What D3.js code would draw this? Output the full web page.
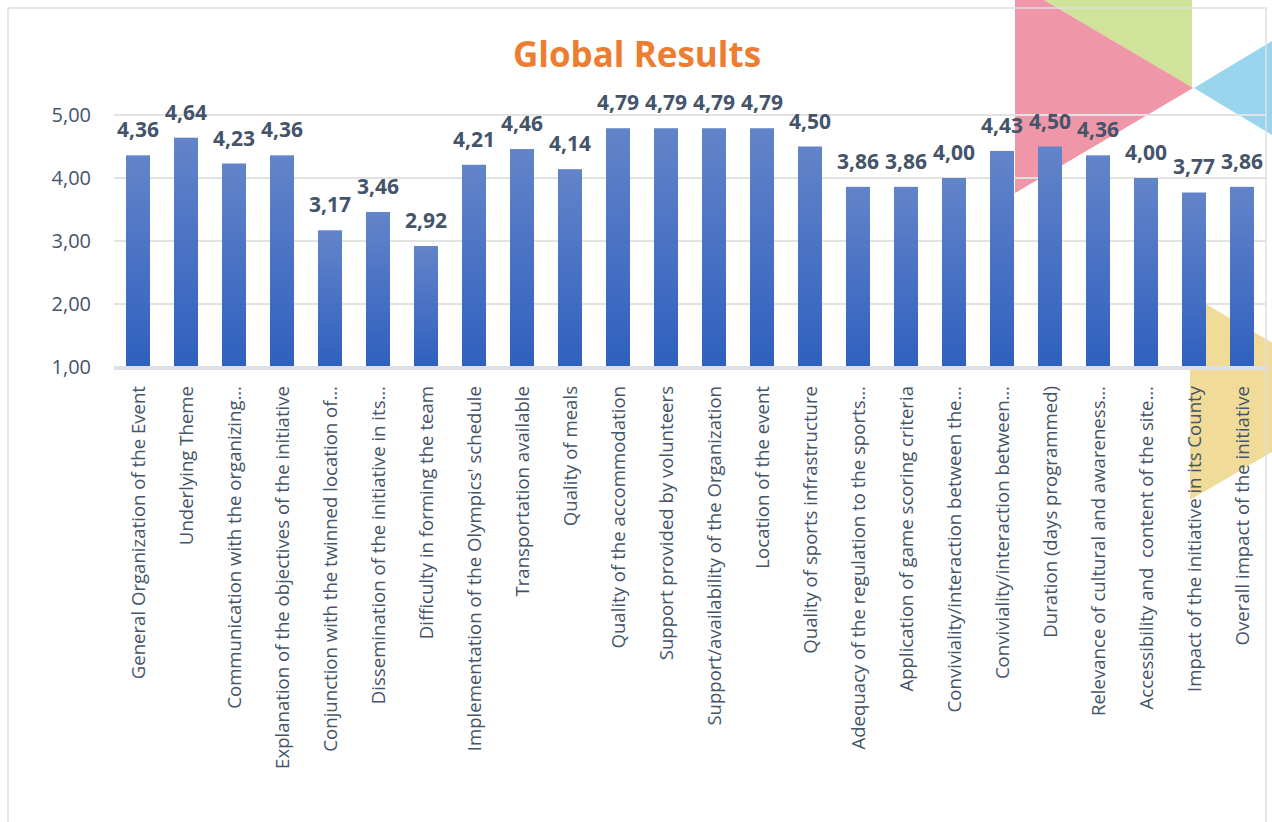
<!DOCTYPE html>
<html>
<head>
<meta charset="utf-8">
<script src="https://cdn.jsdelivr.net/npm/d3@7"></script>
<style>
  html, body { margin: 0; padding: 0; background: #fff; }
  svg { display: block; font-family: "Open Sans", sans-serif; }
</style>
</head>
<body>
<div id="chart"></div>
<script>
// categories and the average score of each one
const categories = [
  "General Organization of the Event",
  "Underlying Theme",
  "Communication with the organizing…",
  "Explanation of the objectives of the initiative",
  "Conjunction with the twinned location of…",
  "Dissemination of the initiative in its…",
  "Difficulty in forming the team",
  "Implementation of the Olympics' schedule",
  "Transportation available",
  "Quality of meals",
  "Quality of the accommodation",
  "Support provided by volunteers",
  "Support/availability of the Organization",
  "Location of the event",
  "Quality of sports infrastructure",
  "Adequacy of the regulation to the sports…",
  "Application of game scoring criteria",
  "Conviviality/interaction between the…",
  "Conviviality/interaction between…",
  "Duration (days programmed)",
  "Relevance of cultural and awareness…",
  "Accessibility and  content of the site…",
  "Impact of the initiative in its County",
  "Overall impact of the initiative"
];
const scores = [4.36, 4.64, 4.23, 4.36, 3.17, 3.46, 2.92, 4.21, 4.46, 4.14, 4.79, 4.79,
  4.79, 4.79, 4.50, 3.86, 3.86, 4.00, 4.43, 4.50, 4.36, 4.00, 3.77, 3.86];
const yTicks = [1, 2, 3, 4, 5];

const W = 1272, H = 822;
const PLOT = {LEFT: 114, RIGHT: 1266, TOP: 115, BOTTOM: 367};

const data = categories.map((c, i) => ({name: c, value: scores[i]}));
const locale = d3.formatLocale({decimal: ",", thousands: ".", grouping: [3], currency: ["", "€"]});
const fmt = locale.format(".2f");

const svg = d3.select('#chart').append('svg')
  .attr('width', W)
  .attr('height', H);

// gradient for the bars
const grad = svg.append('defs').append('linearGradient')
  .attr('id', 'barGrad')
  .attr('x1', 0).attr('y1', 0).attr('x2', 0).attr('y2', 1);
grad.append('stop').attr('offset', '0%').attr('stop-color', '#6384ca');
grad.append('stop').attr('offset', '100%').attr('stop-color', '#2f60be');

// background decoration (the coloured triangles behind the chart)
const deco = [
  {fill: '#d1e29b', pts: [[1015, -17], [1192, -17], [1192, 88]]},
  {fill: '#f096a9', pts: [[1015, -17], [1193, 88], [1015, 193]]},
  {fill: '#99d6ee', pts: [[1194, 88], [1300, 24], [1300, 152]]},
  {fill: '#f0dc98', pts: [[1190, 295], [1366, 397], [1190, 500]]}
];
svg.selectAll('polygon.deco')
  .data(deco)
  .enter().append('polygon')
    .attr('class', 'deco')
    .attr('points', d => d.pts.map(p => p.join(',')).join(' '))
    .attr('fill', d => d.fill);

// chart border
svg.append('rect')
  .attr('x', 8).attr('y', 8)
  .attr('width', 1258).attr('height', 830)
  .attr('fill', 'none')
  .attr('stroke', '#dcdfe3')
  .attr('stroke-width', 1.5);

// scales
const x = d3.scaleBand()
  .domain(categories)
  .range([PLOT.LEFT, PLOT.RIGHT])
  .paddingInner(0.5)
  .paddingOuter(0.25);

const y = d3.scaleLinear()
  .domain([1, 5])
  .range([PLOT.BOTTOM, PLOT.TOP]);

// gridlines
svg.append('g')
  .selectAll('line')
  .data(yTicks.filter(t => t > 1))
  .enter().append('line')
    .attr('x1', PLOT.LEFT).attr('x2', PLOT.RIGHT)
    .attr('y1', d => y(d)).attr('y2', d => y(d))
    .attr('stroke', '#e2e2e2')
    .attr('stroke-width', 2);

// y axis labels
const yAxis = d3.axisLeft(y).tickValues(yTicks).tickFormat(fmt).tickSize(0).tickPadding(0);
const yG = svg.append('g')
  .attr('transform', `translate(91, 0)`)
  .call(yAxis);
yG.select('.domain').remove();
yG.selectAll('text')
  .attr('fill', '#44546a')
  .attr('font-size', 20)
  .attr('font-family', '"Open Sans", sans-serif');

// bars
svg.append('g')
  .selectAll('rect')
  .data(data)
  .enter().append('rect')
    .attr('x', d => x(d.name))
    .attr('y', d => y(d.value))
    .attr('width', x.bandwidth())
    .attr('height', d => y(1) - y(d.value))
    .attr('fill', 'url(#barGrad)');

// x axis line
svg.append('line')
  .attr('x1', PLOT.LEFT).attr('x2', PLOT.RIGHT)
  .attr('y1', y(1) + 1).attr('y2', y(1) + 1)
  .attr('stroke', '#dde1e7')
  .attr('stroke-width', 4);

// value labels
svg.append('g')
  .selectAll('text')
  .data(data)
  .enter().append('text')
    .attr('x', d => x(d.name) + x.bandwidth() / 2)
    .attr('y', d => y(d.value) - 18)
    .attr('text-anchor', 'middle')
    .attr('font-size', 21)
    .attr('font-weight', 'bold')
    .attr('fill', '#44546a')
    .text(d => fmt(d.value));

// category labels
const xAxis = d3.axisBottom(x).tickSize(0).tickPadding(0);
const xG = svg.append('g')
  .attr('transform', `translate(0, ${y(1)})`)
  .call(xAxis);
xG.select('.domain').remove();
xG.selectAll('text')
  .attr('transform', 'translate(0, 19) rotate(-90)')
  .attr('text-anchor', 'end')
  .attr('x', 0).attr('y', 0)
  .attr('dy', '0.35em')
  .attr('fill', '#44546a')
  .attr('font-size', 18.6)
  .attr('font-family', '"Open Sans", sans-serif')
  .style('white-space', 'pre');

// title
svg.append('text')
  .attr('x', 637)
  .attr('y', 67)
  .attr('text-anchor', 'middle')
  .attr('font-size', 35)
  .attr('font-weight', 'bold')
  .attr('fill', '#ed7d31')
  .text('Global Results');
</script>
</body>
</html>
